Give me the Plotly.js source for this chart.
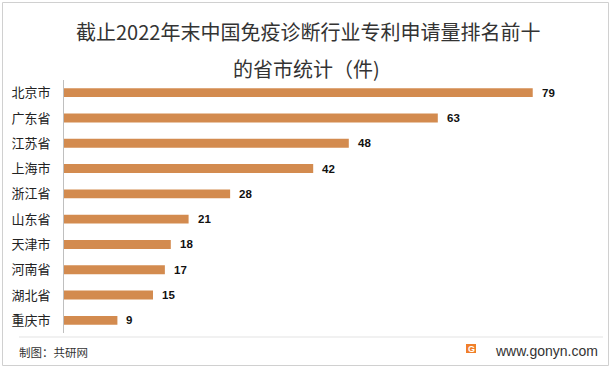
<!DOCTYPE html>
<html><head><meta charset="utf-8">
<script src="https://cdn.plot.ly/plotly-3.0.1.min.js"></script>
<style>html,body{margin:0;padding:0;background:#fff;}#chart{width:616px;height:372px;}</style>
</head><body><div id="chart"></div>
<script>
const provinces = ["北京市","广东省","江苏省","上海市","浙江省","山东省","天津市","河南省","湖北省","重庆市"];
const patents = [79,63,48,42,28,21,18,17,15,9];
const titleLine1 = "截止2022年末中国免疫诊断行业专利申请量排名前十";
const titleLine2 = "的省市统计（件)";
const sourceText = "制图：共研网";
const siteText = "www.gonyn.com";

const W = 616, H = 372;
const m = {l:64, r:18, t:80, b:39};
const pw = W - m.l - m.r, ph = H - m.t - m.b;
const px = x => (x - m.l) / pw;
const py = y => (H - m.b - y) / ph;
const font = "'Noto Sans CJK SC', 'Noto Sans', sans-serif";

const trace = {
  type: 'bar', orientation: 'h',
  x: patents, y: provinces,
  marker: {color: '#D38B4F'},
  width: 0.35,
  hoverinfo: 'none'
};

const annotations = provinces.map((p, i) => ({
  x: patents[i], y: p, xref: 'x', yref: 'y',
  text: '<b>' + patents[i] + '</b>', showarrow: false,
  xanchor: 'left', xshift: 7,
  font: {family: "'Liberation Sans', Arial, sans-serif", size: 11.5, color: '#111'}
}));
annotations.push(
  {xref:'paper', yref:'paper', x: px(308), y: py(31), text: titleLine1, showarrow:false,
   xanchor:'center', yanchor:'middle', font:{family:font, size:20, color:'#333'}},
  {xref:'paper', yref:'paper', x: px(306), y: py(68), text: titleLine2, showarrow:false,
   xanchor:'center', yanchor:'middle', font:{family:font, size:20, color:'#333'}},
  {xref:'paper', yref:'paper', x: px(17), y: py(352), text: sourceText, showarrow:false,
   xanchor:'left', yanchor:'middle', font:{family:font, size:11.5, color:'#333'}},
  {xref:'paper', yref:'paper', x: px(600), y: py(351), text: siteText, showarrow:false,
   xanchor:'right', yanchor:'middle', font:{family:"'Liberation Sans', Arial, sans-serif", size:14, color:'#333'}},
  {xref:'paper', yref:'paper', x: px(471), y: py(348.5), text: '<b>G</b>', showarrow:false,
   xanchor:'center', yanchor:'middle', font:{family:"'Liberation Sans', Arial, sans-serif", size:9, color:'#fff'}}
);

const shapes = [
  {type:'rect', xref:'paper', yref:'paper', x0:px(2.5), x1:px(608.5), y0:py(2.5), y1:py(365.5),
   line:{color:'#D0D0D0', width:1}, fillcolor:'rgba(0,0,0,0)', layer:'below'},
  {type:'line', xref:'paper', yref:'paper', x0:px(19), x1:px(603), y0:py(337), y1:py(337),
   line:{color:'#E3E3E3', width:1}},
  {type:'rect', xref:'paper', yref:'paper', x0:px(466), x1:px(476), y0:py(344), y1:py(353),
   line:{width:0}, fillcolor:'#F07F2A'}
];

const layout = {
  width: W, height: H,
  margin: m,
  paper_bgcolor: '#fff', plot_bgcolor: '#fff',
  showlegend: false,
  xaxis: {range:[0,90], visible:false, fixedrange:true},
  yaxis: {type:'category', autorange:'reversed', showline:true, linecolor:'#BFBFBF', linewidth:1,
          ticks:'', showgrid:false, zeroline:false, ticklabelstandoff:10,
          tickfont:{family:font, size:13, color:'#222'}},
  annotations, shapes
};
Plotly.newPlot('chart', [trace], layout, {displayModeBar:false, staticPlot:true});
</script></body></html>
